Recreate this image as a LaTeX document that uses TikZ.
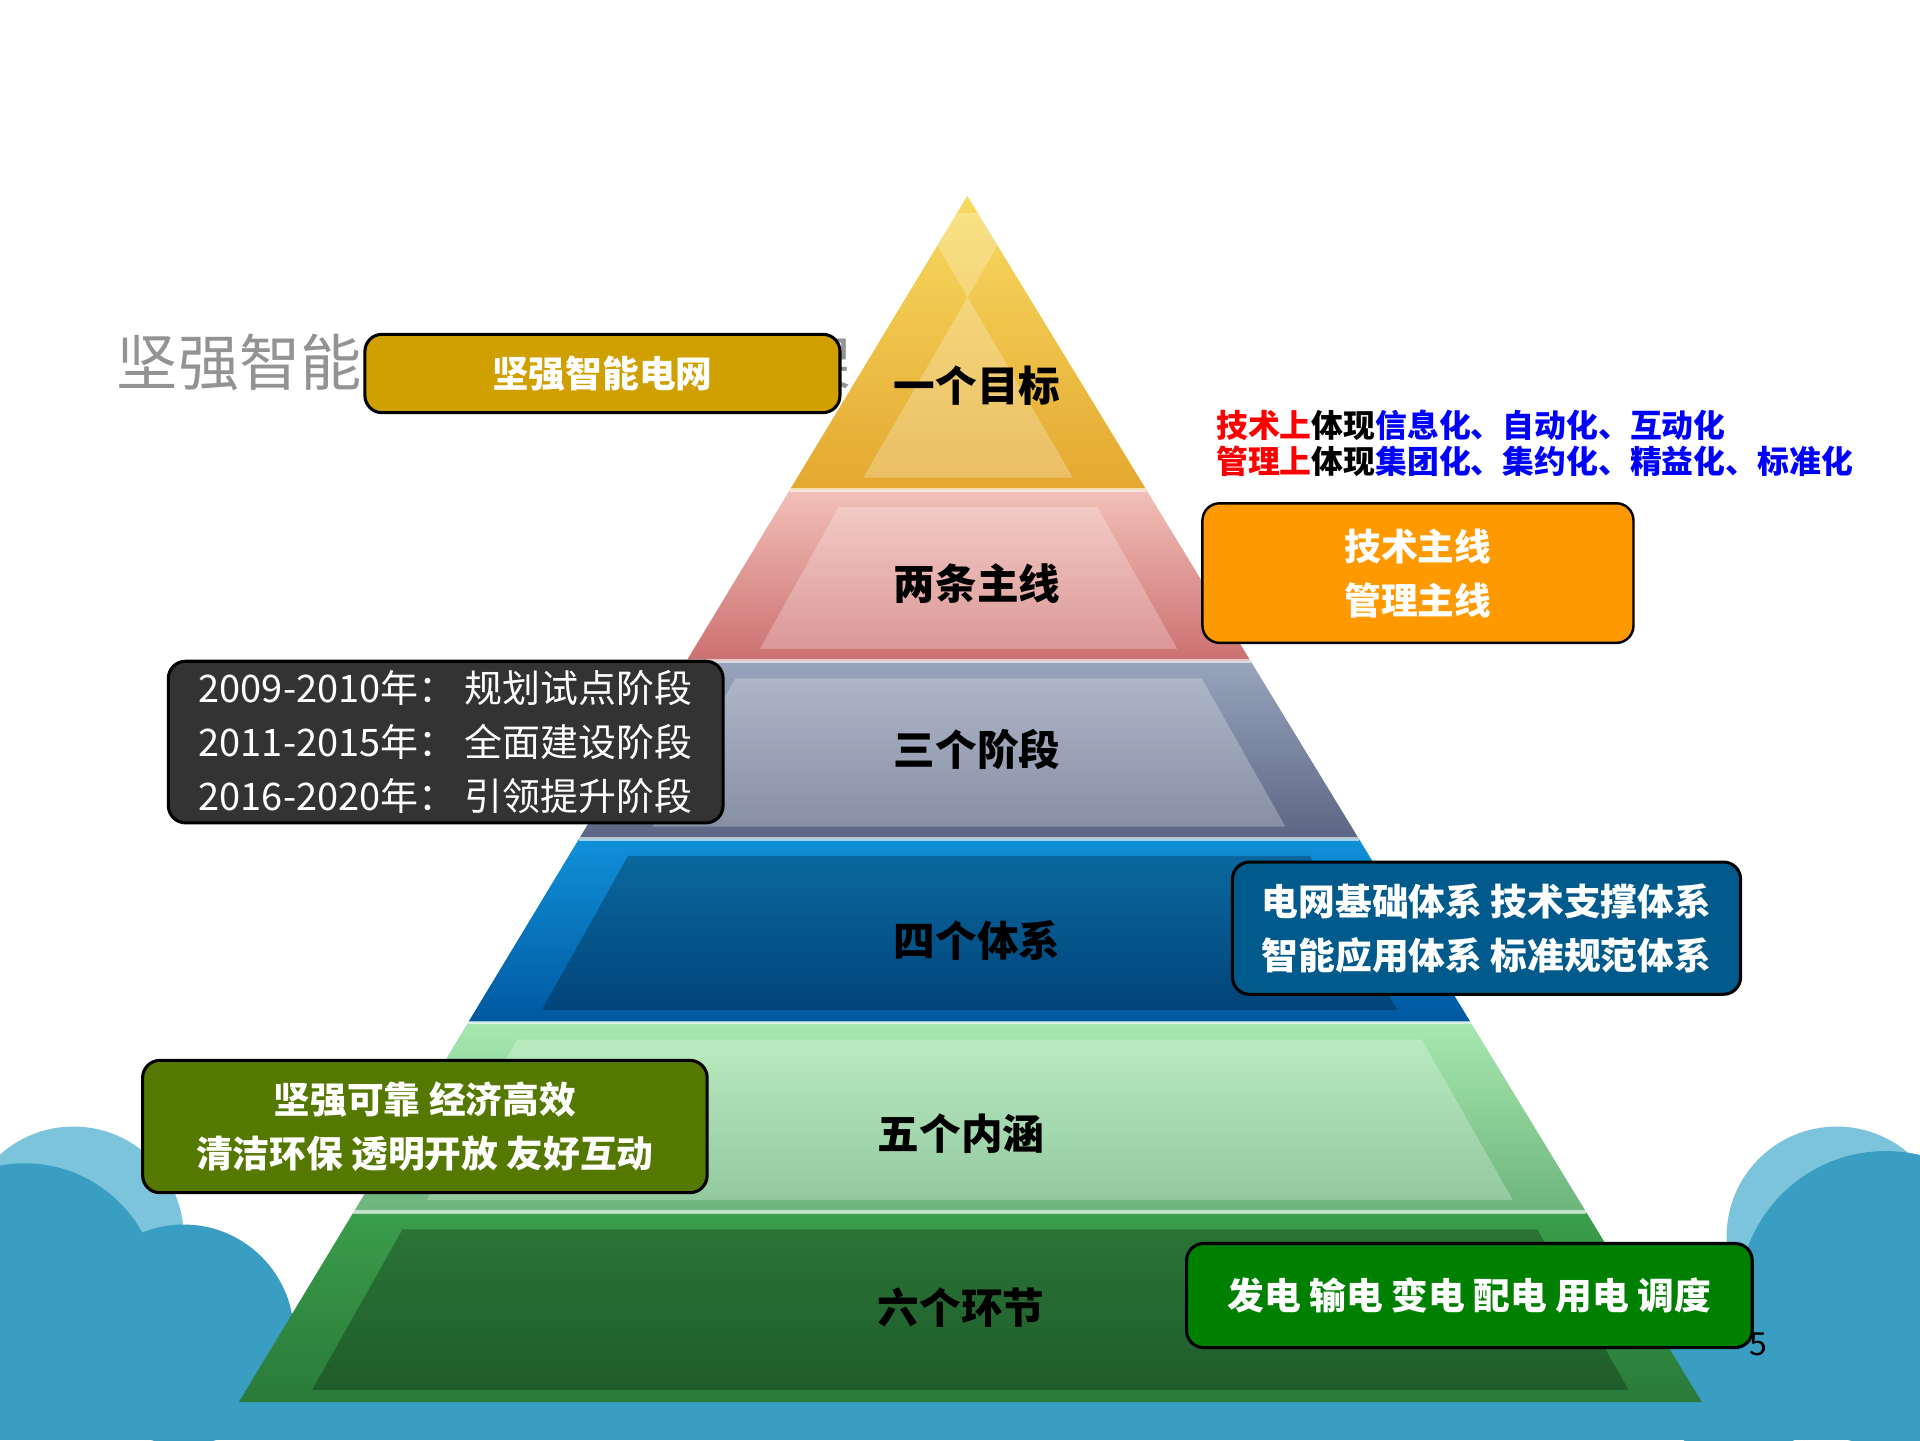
\documentclass[tikz,border=0pt]{standalone}
\usepackage{fontspec}
\setmainfont{Noto Sans CJK SC}
\begin{document}
\begin{tikzpicture}[x=1pt,y=-1pt,
  lbl/.style={font=\fontsize{34}{40}\selectfont\bfseries,text=black},
  bx/.style={draw=black,line width=2.5pt,rounded corners=14pt,text=white,font=\fontsize{30}{44}\selectfont\bfseries,align=center,inner sep=0pt}]
\definecolor{cloudc}{HTML}{3A9EC2}
\definecolor{cloudl}{HTML}{7CC4DC}
\definecolor{yA}{HTML}{F8DA60}\definecolor{yB}{HTML}{E4A830}
\definecolor{pA}{HTML}{F2C0B8}\definecolor{pB}{HTML}{CC7070}
\definecolor{sA}{HTML}{98A4BC}\definecolor{sB}{HTML}{5C6684}
\definecolor{bA}{HTML}{1090D8}\definecolor{bB}{HTML}{0058A0}
\definecolor{gA}{HTML}{A8E8B0}\definecolor{gB}{HTML}{6CB47C}
\definecolor{dA}{HTML}{3A9E4A}\definecolor{dB}{HTML}{2A7A3A}
\useasboundingbox (0,0) rectangle (1568,1176);
\fill[white] (0,0) rectangle (1568,1176);
\begin{scope}
\clip (0,0) rectangle (1568,1176);
\fill[cloudl] (60,1010) circle (90);
\fill[cloudc] (20,1060) circle (110);
\fill[cloudc] (150,1090) circle (90);
\fill[cloudl] (1500,1010) circle (90);
\fill[cloudc] (1540,1060) circle (120);
\fill[cloudc] (1420,1110) circle (80);
\fill[cloudc] (0,1120) rectangle (1568,1176);
\end{scope}
\node[anchor=west,text=gray!85,font=\fontsize{50}{56}\selectfont] (title) at (92,296) {坚强智能电网技术体系框架};
\def\layer#1#2#3#4#5{%
  \shade[top color=#3,bottom color=#4] ({790-0.604*(#1-160)},#1) -- ({790+0.609*(#1-160)},#1) -- ({790+0.609*(#2-160)},#2) -- ({790-0.604*(#2-160)},#2) -- cycle;
  \fill[#5,opacity=0.25] ({790-0.604*(#1-160)+40},{#1+14}) -- ({790+0.609*(#1-160)-40},{#1+14}) -- ({790+0.609*(#2-160)-60},{#2-10}) -- ({790-0.604*(#2-160)+60},{#2-10}) -- cycle;
  \draw[white,opacity=0.6,line width=3pt] ({790-0.604*(#1-160)},#1) -- ({790+0.609*(#1-160)},#1);}
\layer{160}{400}{yA}{yB}{white}
\layer{400}{540}{pA}{pB}{white}
\layer{540}{685}{sA}{sB}{white}
\layer{685}{835}{bA}{bB}{black}
\layer{835}{990}{gA}{gB}{white}
\layer{990}{1145}{dA}{dB}{black}
\node[lbl] (l1) at (798,315) {一个目标};
\node[lbl] (l2) at (798,477) {两条主线};
\node[lbl] (l3) at (798,612) {三个阶段};
\node[lbl] (l4) at (798,768) {四个体系};
\node[lbl] (l5) at (785,926) {五个内涵};
\node[lbl] (l6) at (785,1068) {六个环节};
\node[bx,fill={rgb,255:red,208;green,160;blue,0},minimum width=388pt,minimum height=64pt] (b1) at (492,305) {坚强智能电网};
\node[bx,fill={rgb,255:red,255;green,153;blue,0},minimum width=352pt,minimum height=114pt,line width=2pt] (b2) at (1158,468) {技术主线\\管理主线};
\node[bx,fill=black!80,minimum width=453pt,minimum height=132pt,font=\fontsize{31}{44}\selectfont,align=left] (b3) at (364,606) {2009-2010年：\ 规划试点阶段\\2011-2015年：\ 全面建设阶段\\2016-2020年：\ 引领提升阶段};
\node[bx,fill={rgb,255:red,0;green,90;blue,140},minimum width=415pt,minimum height=108pt] (b4) at (1214,758) {电网基础体系 技术支撑体系\\智能应用体系 标准规范体系};
\node[bx,fill={rgb,255:red,85;green,120;blue,0},minimum width=461pt,minimum height=108pt] (b5) at (347,920) {坚强可靠 经济高效\\清洁环保 透明开放 友好互动};
\node[bx,fill={rgb,255:red,0;green,128;blue,0},minimum width=462pt,minimum height=85pt] (b6) at (1200,1058) {发电 输电 变电 配电 用电 调度};
\node[anchor=west,font=\fontsize{26}{30}\selectfont\bfseries,inner sep=0pt] (t1) at (993,347) {\textcolor{red}{技术上}体现\textcolor{blue}{信息化、自动化、互动化}};
\node[anchor=west,font=\fontsize{26}{30}\selectfont\bfseries,inner sep=0pt] (t2) at (993,377) {\textcolor{red}{管理上}体现\textcolor{blue}{集团化、集约化、精益化、标准化}};
\node[font=\fontsize{26}{30}\selectfont] (pg) at (1436,1098) {5};
\end{tikzpicture}
\end{document}
